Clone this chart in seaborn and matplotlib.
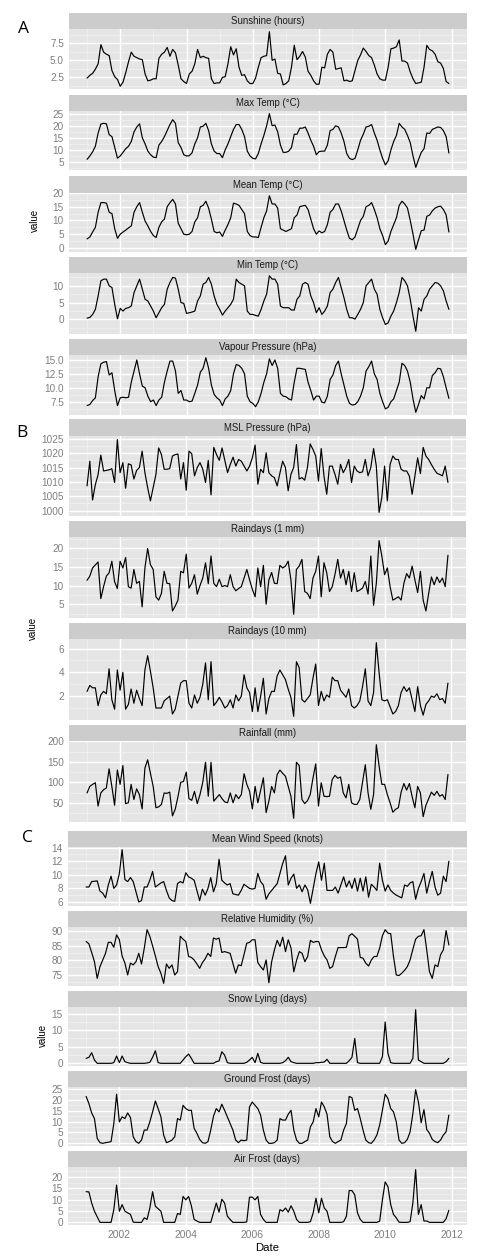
import numpy as np
import pandas as pd
import matplotlib
matplotlib.use("Agg")
import matplotlib.pyplot as plt
import seaborn as sns

sns.set_theme(style="white")
plt.rcParams["font.family"] = ["Liberation Sans", "DejaVu Sans"]

# ---------------- data (monthly, Jan 2001 - Dec 2011) ----------------
sunshine = [
    2.4, 2.8, 3.1, 3.7, 4.5, 7.3, 6.2, 5.9, 5.7, 3.5, 2.6, 2.2,
    1.2, 1.8, 3.2, 4.8, 6.2, 5.6, 5.4, 5.2, 5.1, 3.0, 2.0, 2.1,
    2.3, 2.3, 5.3, 5.9, 6.2, 6.9, 5.6, 6.6, 6.1, 4.3, 2.3, 1.9,
    1.6, 3.0, 3.4, 4.5, 6.6, 5.4, 5.6, 5.4, 5.3, 2.3, 1.6, 1.7,
    1.7, 2.5, 2.6, 4.5, 7.0, 5.8, 6.7, 4.0, 2.8, 2.9, 2.0, 1.6,
    1.6, 2.4, 4.0, 5.4, 5.6, 5.7, 9.2, 5.0, 5.2, 3.1, 3.0, 1.4,
    1.6, 2.0, 4.0, 7.2, 5.1, 5.6, 6.3, 5.5, 3.4, 2.8, 2.0, 1.5,
    1.5, 4.0, 3.9, 5.9, 6.6, 6.2, 3.7, 3.8, 3.9, 2.0, 2.1, 1.9,
    2.0, 3.5, 5.0, 5.8, 6.8, 6.3, 5.7, 5.4, 4.3, 3.0, 2.3, 2.1,
    2.1, 4.0, 6.7, 6.8, 7.0, 8.0, 4.9, 4.9, 4.6, 3.3, 2.3, 1.6,
    1.7, 1.8, 4.0, 7.2, 6.6, 6.4, 5.9, 4.8, 4.6, 3.8, 1.9, 1.6,
]
max_temp = [
    6.1, 7.5, 9.2, 11.5, 17.0, 20.7, 21.0, 20.8, 16.3, 15.5, 11.0, 6.6,
    7.5, 9.0, 10.5, 11.5, 13.5, 17.5, 19.5, 20.8, 15.0, 12.5, 9.5, 8.0,
    7.0, 6.8, 12.0, 13.5, 15.5, 18.0, 20.5, 22.5, 21.0, 13.0, 11.0, 8.0,
    7.5, 7.6, 8.8, 12.5, 15.0, 19.5, 19.8, 21.0, 18.0, 12.5, 9.5, 8.5,
    8.5, 6.8, 10.0, 12.5, 15.5, 18.5, 20.5, 20.5, 18.5, 15.5, 9.5, 7.5,
    6.5, 6.3, 8.5, 12.5, 16.0, 20.0, 25.0, 20.0, 20.3, 17.5, 12.0, 9.0,
    9.0, 9.5, 11.0, 16.5, 16.5, 19.0, 19.0, 19.5, 17.0, 14.0, 11.5, 8.0,
    9.3, 9.5, 9.5, 12.0, 18.0, 18.5, 20.0, 19.5, 17.0, 13.5, 8.5, 6.5,
    6.0, 6.5, 10.0, 14.0, 16.5, 19.5, 19.8, 20.5, 17.0, 14.0, 10.0, 6.5,
    3.8, 5.5, 10.0, 13.5, 16.0, 21.0, 19.5, 18.5, 16.0, 13.0, 7.5, 2.8,
    6.0, 9.0, 10.5, 17.0, 16.8, 18.5, 19.0, 19.5, 19.3, 18.0, 15.5, 8.7,
]
mean_temp = [
    3.3, 4.0, 5.8, 7.5, 13.0, 16.5, 16.5, 16.3, 13.0, 12.5, 7.0, 3.5,
    5.0, 5.8, 6.5, 7.3, 8.0, 13.0, 15.0, 16.5, 13.0, 9.8, 8.0, 6.0,
    4.5, 3.8, 7.5, 9.5, 10.5, 15.0, 16.5, 17.7, 16.0, 9.0, 7.0, 5.0,
    4.8, 5.0, 6.0, 9.5, 11.0, 15.0, 15.5, 17.0, 14.5, 10.5, 6.0, 5.5,
    5.8, 4.2, 6.5, 8.5, 11.0, 16.3, 16.0, 15.5, 14.0, 12.5, 6.0, 4.5,
    4.0, 4.0, 3.8, 7.5, 11.0, 13.5, 19.0, 16.0, 16.0, 14.5, 7.0, 6.5,
    6.0, 6.5, 7.0, 11.0, 12.0, 15.0, 15.3, 15.5, 14.0, 10.5, 7.0, 5.0,
    6.2, 5.5, 6.0, 8.5, 13.0, 14.0, 16.0, 16.0, 13.5, 10.0, 6.5, 3.5,
    3.0, 4.0, 7.0, 10.0, 11.5, 15.0, 15.5, 16.5, 14.0, 11.0, 7.0, 4.5,
    1.2, 2.5, 6.0, 8.5, 11.0, 15.5, 17.0, 16.0, 14.5, 10.0, 5.0, -0.5,
    3.0, 6.3, 6.5, 11.5, 12.0, 13.5, 14.5, 15.0, 15.2, 14.0, 12.0, 5.8,
]
min_temp = [
    0.4, 0.6, 1.5, 3.0, 7.0, 11.5, 12.0, 12.0, 10.0, 9.5, 4.5, 0.2,
    3.3, 2.5, 3.3, 3.5, 4.0, 8.0, 10.0, 12.0, 9.0, 6.0, 5.5, 4.0,
    2.5, 0.5, 2.0, 3.5, 4.5, 9.0, 11.0, 12.5, 12.3, 9.0, 5.0, 4.8,
    1.8, 2.0, 2.2, 2.5, 5.5, 7.0, 10.5, 11.0, 12.5, 10.5, 7.0, 4.5,
    3.0, 1.3, 2.5, 3.5, 4.5, 6.0, 12.0, 11.0, 10.5, 10.0, 2.5, 1.5,
    1.5, 1.2, 1.0, 3.0, 5.5, 7.5, 13.0, 12.0, 12.0, 10.5, 4.0, 3.5,
    3.5, 3.5, 2.8, 2.8, 6.0, 7.0, 10.5, 11.0, 10.5, 7.0, 5.0, 2.0,
    3.5, 1.5, 2.5, 4.0, 8.0, 9.0, 11.0, 12.5, 9.5, 6.5, 3.0, 0.5,
    0.5, 0.1, 1.5, 3.0, 5.0, 10.0, 11.0, 12.0, 9.0, 7.5, 3.0, 0.5,
    -1.5, -1.0, 1.0, 2.5, 5.0, 8.0, 12.5, 11.5, 10.0, 6.0, 1.0, -3.5,
    3.5, 2.5, 6.0, 7.0, 9.0, 10.0, 11.0, 10.8, 10.0, 8.5, 5.5, 3.0,
]
vapour = [
    6.8, 7.0, 7.7, 8.2, 12.0, 14.3, 14.6, 14.7, 12.3, 12.7, 9.5, 6.8,
    8.2, 8.3, 8.2, 8.3, 11.0, 13.0, 15.0, 12.5, 10.3, 10.0, 8.5, 7.5,
    7.8, 6.8, 7.8, 8.3, 11.0, 13.0, 14.8, 14.8, 13.0, 9.0, 9.5, 7.8,
    7.8, 7.5, 7.6, 9.0, 10.5, 12.8, 13.5, 15.4, 13.5, 10.5, 8.8, 8.2,
    7.8, 6.8, 8.0, 8.5, 9.5, 12.5, 14.2, 14.0, 13.5, 12.5, 8.5, 7.5,
    7.2, 6.6, 7.5, 9.0, 11.0, 12.5, 15.2, 14.0, 15.0, 13.5, 9.0, 8.5,
    8.4, 8.0, 7.8, 11.0, 13.5, 13.5, 13.4, 13.3, 11.0, 9.5, 7.8, 8.5,
    8.5, 7.4, 7.3, 8.5, 11.5, 12.3, 14.0, 14.8, 12.5, 10.5, 8.5, 7.2,
    6.9, 7.0, 7.5, 8.5, 10.0, 13.0, 13.8, 14.8, 12.5, 11.5, 9.0, 7.5,
    6.2, 6.5, 7.5, 8.0, 9.5, 11.0, 14.4, 14.0, 13.0, 11.0, 8.0, 5.6,
    7.0, 8.6, 8.0, 10.0, 10.0, 12.2, 12.7, 13.5, 13.4, 12.0, 10.0, 8.1,
]
msl_pressure = [
    1008.6, 1017.2, 1003.7, 1009.0, 1012.5, 1019.3, 1013.8, 1014.0, 1014.2, 1014.6, 1009.8, 1024.7,
    1013.2, 1016.7, 1007.8, 1016.3, 1015.9, 1011.0, 1014.0, 1015.0, 1020.7, 1013.2, 1008.0, 1003.4,
    1008.0, 1012.6, 1021.8, 1019.5, 1014.4, 1014.4, 1014.6, 1019.0, 1019.5, 1019.7, 1011.0, 1016.7,
    1007.1, 1020.7, 1019.8, 1012.1, 1015.0, 1016.7, 1014.4, 1009.8, 1017.5, 1005.5, 1022.0, 1019.5,
    1017.5, 1021.8, 1017.5, 1013.2, 1016.1, 1018.6, 1015.5, 1017.8, 1017.2, 1015.5, 1013.8, 1015.5,
    1018.4, 1022.8, 1009.2, 1014.4, 1013.2, 1020.1, 1013.2, 1012.1, 1011.5, 1008.6, 1013.0, 1017.2,
    1015.0, 1006.9, 1012.6, 1015.0, 1023.0, 1011.0, 1011.5, 1010.6, 1015.0, 1023.2, 1021.3, 1019.0,
    1010.3, 1021.6, 1012.0, 1005.7, 1015.5, 1015.5, 1012.6, 1009.2, 1016.1, 1013.2, 1015.0, 1017.8,
    1009.8, 1015.5, 1013.8, 1013.2, 1013.5, 1017.8, 1012.1, 1015.0, 1021.6, 1015.5, 999.4, 1004.6,
    1015.5, 1003.4, 1016.1, 1019.0, 1017.8, 1017.8, 1014.4, 1013.8, 1013.8, 1012.0, 1005.7, 1012.0,
    1018.4, 1012.9, 1022.0, 1019.0, 1017.8, 1016.0, 1014.4, 1013.0, 1012.6, 1012.1, 1015.5, 1009.8,
]
raindays_1mm = [
    11.4, 12.5, 14.7, 15.5, 16.3, 6.5, 9.7, 12.5, 13.4, 16.5, 11.0, 9.2,
    16.5, 14.7, 17.5, 9.7, 9.3, 14.3, 10.6, 11.1, 4.3, 14.7, 19.9, 15.6,
    14.3, 7.0, 6.1, 7.9, 13.8, 10.6, 10.5, 3.2, 4.5, 6.1, 13.8, 13.4,
    18.4, 9.3, 10.6, 12.9, 7.7, 10.0, 12.0, 16.1, 10.5, 17.9, 10.6, 9.7,
    11.7, 9.7, 10.0, 9.7, 12.9, 9.7, 8.6, 9.2, 9.7, 12.0, 14.3, 11.5,
    9.0, 7.0, 14.7, 9.7, 15.4, 5.0, 11.5, 13.5, 10.6, 10.5, 15.4, 14.7,
    15.2, 16.5, 11.5, 2.3, 14.3, 15.2, 17.0, 8.4, 7.9, 6.5, 12.0, 13.8,
    17.9, 7.0, 16.1, 13.4, 8.4, 9.7, 13.0, 17.0, 12.0, 14.3, 10.2, 13.8,
    8.4, 13.4, 8.4, 8.8, 9.3, 11.1, 7.7, 17.9, 4.7, 10.6, 22.0, 17.9,
    12.9, 14.7, 9.7, 6.1, 6.5, 7.0, 6.1, 10.6, 13.2, 12.0, 15.2, 11.5,
    8.1, 13.8, 6.1, 3.2, 7.9, 12.3, 10.2, 12.3, 10.8, 12.0, 9.7, 18.1,
]
raindays_10mm = [
    2.4, 2.9, 2.7, 2.7, 1.2, 2.1, 2.4, 2.2, 4.3, 1.7, 0.9, 4.2,
    2.5, 4.0, 0.9, 1.3, 2.6, 1.4, 2.5, 1.8, 1.2, 4.2, 5.4, 4.1,
    2.7, 1.0, 1.0, 1.0, 1.6, 1.8, 2.0, 0.5, 0.9, 2.0, 3.1, 3.3,
    3.3, 1.4, 1.0, 2.1, 1.4, 1.9, 3.0, 4.8, 1.7, 4.9, 1.2, 1.5,
    1.9, 1.5, 1.0, 1.2, 1.7, 1.0, 2.1, 1.6, 2.0, 3.8, 2.7, 2.3,
    0.7, 2.7, 0.7, 2.0, 3.5, 0.5, 1.8, 2.4, 2.4, 3.7, 4.2, 3.8,
    3.4, 2.6, 1.9, 0.3, 4.9, 4.4, 1.7, 1.5, 1.8, 2.1, 3.5, 4.7,
    1.2, 2.4, 1.6, 2.1, 1.9, 3.6, 3.3, 3.3, 2.5, 2.2, 1.9, 2.6,
    1.2, 1.0, 1.2, 1.6, 2.8, 4.3, 1.6, 1.2, 2.3, 6.5, 4.0, 1.7,
    1.6, 1.7, 1.1, 0.5, 0.7, 1.2, 2.3, 2.8, 2.4, 2.7, 1.7, 0.7,
    2.8, 1.2, 0.4, 1.3, 1.6, 2.0, 1.9, 2.2, 1.7, 1.8, 1.4, 3.1,
]
rainfall = [
    74, 90, 95, 99, 42, 74, 82, 86, 133, 90, 44, 130,
    95, 141, 48, 50, 95, 58, 84, 70, 35, 135, 155, 123,
    90, 38, 40, 46, 74, 73, 76, 18, 34, 65, 100, 102,
    125, 60, 56, 78, 48, 70, 100, 149, 66, 149, 54, 62,
    70, 60, 52, 50, 74, 50, 70, 60, 70, 121, 95, 78,
    35, 90, 50, 80, 111, 26, 54, 90, 74, 119, 130, 122,
    115, 90, 66, 12, 149, 141, 58, 48, 55, 70, 110, 145,
    42, 99, 66, 65, 66, 107, 117, 110, 113, 74, 62, 95,
    50, 46, 46, 58, 100, 143, 74, 34, 70, 192, 140, 95,
    95, 70, 50, 27, 34, 38, 76, 97, 81, 97, 65, 38,
    90, 74, 16, 44, 60, 76, 68, 78, 66, 70, 58, 119,
]
wind_speed = [
    8.2, 8.2, 9.0, 9.05, 9.1, 7.6, 7.3, 6.6, 8.5, 9.8, 8.0, 8.5,
    10.2, 13.7, 9.3, 9.0, 9.6, 9.0, 7.5, 6.0, 6.2, 8.2, 8.2, 9.2,
    10.5, 8.2, 8.5, 8.8, 9.0, 7.7, 6.6, 6.2, 6.1, 8.7, 9.0, 8.8,
    10.3, 9.7, 9.5, 9.2, 7.7, 6.2, 7.9, 7.0, 8.0, 9.6, 7.5, 8.7,
    12.3, 9.2, 8.8, 8.5, 8.7, 7.2, 7.1, 7.0, 7.7, 8.6, 8.3, 8.0,
    7.9, 8.0, 10.2, 9.0, 8.5, 6.4, 7.2, 7.7, 8.2, 8.7, 10.2, 11.7,
    12.8, 8.5, 9.5, 10.1, 8.0, 8.5, 7.5, 8.5, 7.8, 5.8, 8.0, 10.2,
    11.9, 9.2, 11.7, 7.7, 7.7, 7.7, 8.2, 7.3, 8.5, 9.7, 8.2, 9.1,
    8.0, 9.5, 7.6, 9.5, 7.6, 9.7, 6.7, 8.6, 8.2, 7.7, 11.7, 9.2,
    7.6, 8.5, 7.7, 7.3, 7.0, 6.8, 6.6, 8.5, 8.3, 8.8, 9.0, 6.4,
    8.0, 9.0, 10.2, 7.3, 9.0, 10.5, 8.2, 7.0, 7.3, 9.8, 9.0, 12.0,
]
humidity = [
    86.5, 85.7, 82.7, 79.5, 73.7, 77.8, 80.1, 82.4, 86.2, 86.2, 84.5, 88.8,
    87.1, 81.5, 79.0, 74.9, 79.0, 78.4, 79.5, 82.4, 78.7, 84.2, 90.6, 88.3,
    85.0, 81.5, 77.8, 75.5, 72.0, 78.7, 77.2, 78.4, 74.9, 76.0, 88.3, 87.3,
    86.5, 81.3, 81.0, 80.1, 78.7, 77.2, 79.2, 80.5, 82.4, 81.3, 87.7, 87.3,
    87.7, 82.7, 83.0, 82.7, 82.4, 79.0, 75.5, 78.4, 78.1, 81.9, 85.9, 86.2,
    87.1, 87.1, 79.2, 77.8, 76.6, 80.1, 72.2, 79.5, 83.6, 86.9, 84.8, 88.0,
    83.0, 87.1, 84.2, 76.0, 80.0, 83.0, 82.4, 79.5, 81.3, 86.9, 86.2, 86.5,
    86.5, 83.6, 81.5, 80.1, 77.2, 77.8, 81.3, 84.4, 84.4, 84.4, 84.5, 88.5,
    89.2, 88.3, 87.3, 81.0, 80.7, 79.0, 78.0, 80.1, 81.3, 81.3, 84.2, 88.5,
    90.6, 89.4, 89.2, 81.3, 74.9, 74.7, 75.5, 76.5, 77.8, 80.1, 83.8, 87.3,
    88.3, 88.5, 90.6, 83.6, 76.0, 73.7, 78.4, 77.8, 81.9, 83.6, 90.3, 85.3,
]
snow_lying = [
    1.5, 1.8, 3.2, 1.0, 0, 0, 0, 0, 0, 0, 0.2, 2.2,
    0.2, 2.2, 0.5, 0.2, 0, 0, 0, 0, 0, 0, 0.1, 0.3,
    1.8, 3.8, 0.2, 0, 0, 0, 0, 0, 0, 0, 0, 1.0,
    2.0, 2.8, 1.5, 0, 0, 0, 0, 0, 0, 0, 0, 0.5,
    0.7, 3.5, 2.5, 0.2, 0, 0, 0, 0, 0, 0, 0.3, 1.0,
    1.8, 0.2, 3.0, 0.3, 0, 0, 0, 0, 0, 0, 0, 0.2,
    0.8, 1.8, 0.5, 0.2, 0, 0, 0, 0, 0, 0, 0, 0.2,
    0.2, 0.3, 0.4, 1.2, 0, 0, 0, 0, 0, 0, 0, 0.8,
    1.8, 7.5, 0.2, 0, 0, 0, 0, 0, 0, 0, 0, 2.0,
    12.5, 3.0, 0.2, 0, 0, 0, 0, 0, 0, 0, 1.5, 16.2,
    1.0, 0.5, 0, 0, 0, 0, 0, 0, 0, 0, 0.5, 1.5,
]
ground_frost = [
    21.6, 18.3, 14.0, 11.4, 2.3, 0.3, 0.0, 0.3, 0.5, 0.8, 9.1, 22.6,
    9.9, 12.2, 11.4, 14.0, 11.9, 3.0, 0.8, 0.0, 1.5, 6.1, 6.1, 9.9,
    14.5, 19.5, 16.0, 12.2, 3.8, 0.3, 0.8, 1.5, 3.0, 11.4, 10.7, 17.5,
    16.0, 15.2, 15.2, 6.9, 4.6, 1.8, 0.3, 0.0, 0.8, 6.1, 12.5, 16.0,
    14.5, 18.0, 15.2, 12.2, 9.1, 6.1, 1.5, 0.3, 1.5, 1.2, 1.5, 16.8,
    19.0, 17.5, 16.0, 13.0, 6.1, 1.5, 0.0, 0.0, 0.3, 1.5, 11.4, 10.7,
    10.7, 13.4, 15.2, 6.1, 1.5, 0.0, 0.0, 0.8, 1.5, 7.6, 9.9, 16.0,
    12.2, 19.0, 16.8, 13.4, 3.0, 0.8, 0.0, 0.8, 1.5, 6.1, 9.1, 21.6,
    21.0, 15.2, 16.0, 11.4, 6.1, 1.5, 0.3, 0.0, 1.5, 3.8, 8.4, 15.2,
    22.6, 20.6, 16.0, 14.5, 9.9, 1.5, 0.0, 0.3, 1.8, 5.3, 13.7, 24.7,
    19.0, 9.5, 15.5, 6.4, 4.6, 1.8, 0.8, 0.3, 1.5, 3.8, 5.3, 13.0,
]
air_frost = [
    13.5, 13.4, 8.5, 4.9, 2.5, 0, 0, 0, 0, 0, 5.6, 16.4,
    4.9, 7.8, 4.9, 4.2, 3.5, 0.1, 0, 0, 0, 2.0, 1.3, 6.3,
    13.5, 7.1, 6.0, 4.9, 0, 0, 0, 0, 0, 3.9, 3.5, 11.4,
    9.9, 11.4, 7.3, 1.3, 0.6, 0, 0, 0, 0, 0, 4.2, 8.5,
    4.5, 10.2, 8.5, 2.7, 1.3, 0, 0, 0, 0, 0, 0.2, 11.1,
    11.1, 9.9, 11.4, 3.5, 1.3, 0, 0, 0, 0, 0, 5.6, 4.9,
    6.3, 4.5, 7.3, 4.9, 1.3, 0, 0, 0, 0, 0.3, 4.2, 10.6,
    4.2, 10.6, 6.3, 4.9, 0, 0, 0, 0, 0, 0.3, 2.7, 14.0,
    14.0, 12.1, 4.2, 1.3, 0, 0, 0, 0, 0, 0, 0.5, 9.9,
    17.8, 15.7, 7.8, 3.5, 2.0, 0.1, 0, 0, 0, 0.3, 8.5, 23.2,
    3.5, 7.8, 0.6, 0.6, 0, 0, 0, 0, 0, 0, 1.6, 5.3,
]

titles = [
    "Sunshine (hours)", "Max Temp (°C)", "Mean Temp (°C)", "Min Temp (°C)",
    "Vapour Pressure (hPa)", "MSL Pressure (hPa)", "Raindays (1 mm)",
    "Raindays (10 mm)", "Rainfall (mm)", "Mean Wind Speed (knots)",
    "Relative Humidity (%)", "Snow Lying (days)", "Ground Frost (days)",
    "Air Frost (days)",
]
series = [sunshine, max_temp, mean_temp, min_temp, vapour, msl_pressure,
          raindays_1mm, raindays_10mm, rainfall, wind_speed, humidity,
          snow_lying, ground_frost, air_frost]
y_breaks = [
    [2.5, 5.0, 7.5], [5, 10, 15, 20, 25], [0, 5, 10, 15, 20], [0, 5, 10],
    [7.5, 10.0, 12.5, 15.0], [1000, 1005, 1010, 1015, 1020, 1025],
    [5, 10, 15, 20], [2, 4, 6], [50, 100, 150, 200], [6, 8, 10, 12, 14],
    [75, 80, 85, 90], [0, 5, 10, 15], [0, 5, 10, 15, 20, 25],
    [0, 5, 10, 15, 20],
]
x_breaks = [2002, 2004, 2006, 2008, 2010, 2012]
x_tick_labels = ["2002", "2004", "2006", "2008", "2010", "2012"]
group_letters = ["A", "B", "C"]

bad = [len(s) for s in series if len(s) != 132]
if bad:
    raise ValueError("lengths: " + str([len(s) for s in series]))

months = pd.date_range("2001-01-01", periods=132, freq="MS")
DATES = np.asarray(months.year + (months.month - 1) / 12.0, dtype=float)

# ---------------- layout (pixels) ----------------
W, H = 492, 1260
# (x0, x1, strip_top, panel_top, panel_bottom, group)
layout = [
    (69, 467, 13, 29, 89, 0), (69, 467, 95, 111, 170, 0),
    (69, 467, 176, 193, 252, 0), (69, 467, 257, 273, 334, 0),
    (69, 467, 339, 355, 415, 0),
    (69, 466, 419, 436, 516, 1), (69, 466, 521, 537, 618, 1),
    (69, 466, 623, 639, 720, 1), (69, 466, 725, 741, 822, 1),
    (68, 467, 831, 847, 906, 2), (68, 467, 911, 927, 986, 2),
    (68, 467, 991, 1007, 1066, 2), (68, 467, 1071, 1087, 1146, 2),
    (68, 467, 1151, 1167, 1225, 2),
]
last_in_group = {4: 0, 8: 1, 13: 2}

fig = plt.figure(figsize=(W / 100, H / 100), dpi=100)
fig.patch.set_facecolor("white")

xr = DATES.max() - DATES.min()
xlo, xhi = DATES.min() - 0.05 * xr, DATES.max() + 0.05 * xr
x_minor = [2001, 2003, 2005, 2007, 2009, 2011]

GREY50 = "#7F7F7F"
for k, (title, vals, brks, lay) in enumerate(zip(titles, series, y_breaks, layout)):
    x0, x1, st, pt, pb, grp = lay
    ax = fig.add_axes([x0 / W, 1 - pb / H, (x1 - x0) / W, (pb - pt) / H])
    ax.set_facecolor("#E5E5E5")
    df = pd.DataFrame({"Date": DATES, "value": np.asarray(vals, dtype=float)})
    sns.lineplot(data=df, x="Date", y="value", ax=ax, color="black",
                 linewidth=0.85, estimator=None)
    v = df["value"].values
    r = v.max() - v.min()
    ylo, yhi = v.min() - 0.05 * r, v.max() + 0.05 * r
    ax.set_xlim(xlo, xhi)
    ax.set_ylim(ylo, yhi)
    step = brks[1] - brks[0]
    yminor = [b - step / 2 for b in brks] + [brks[-1] + step / 2]
    yminor = [m for m in yminor if ylo < m < yhi]
    ax.set_yticks(brks)
    dec = 1 if any(float(b) != int(b) for b in brks) else 0
    ax.set_yticklabels([f"{b:.{dec}f}" for b in brks])
    ax.set_yticks(yminor, minor=True)
    ax.set_xticks(x_breaks)
    ax.set_xticks(x_minor, minor=True)
    ax.grid(which="major", color="white", linewidth=1.0)
    ax.grid(which="minor", color="#F2F2F2", linewidth=0.5)
    ax.set_axisbelow(True)
    for s in ax.spines.values():
        s.set_visible(False)
    ax.tick_params(axis="y", which="major", length=2.4, width=0.5,
                   color=GREY50, labelsize=7.2, labelcolor=GREY50, pad=1.2)
    ax.tick_params(which="minor", length=0)
    ax.set_xlabel("")
    ax.set_ylabel("")
    if k in last_in_group and last_in_group[k] > 0:
        ax.tick_params(axis="x", which="major", length=2.4, width=0.5,
                       color=GREY50, labelsize=7.4, labelcolor=GREY50, pad=1.5)
        if last_in_group[k] == 2:
            ax.set_xticklabels(x_tick_labels)
        else:
            ax.set_xticklabels([])
    else:
        ax.tick_params(axis="x", which="major", length=0, labelbottom=False)
    # strip
    sax = fig.add_axes([x0 / W, 1 - pt / H, (x1 - x0) / W, (pt - st) / H])
    sax.set_facecolor("#CCCCCC")
    sax.set_xticks([])
    sax.set_yticks([])
    for s in sax.spines.values():
        s.set_visible(False)
    sax.text(0.5, 0.47, title, ha="center", va="center", fontsize=6.9,
             color="#1A1A1A", transform=sax.transAxes)

# axis titles and panel letters
for (xp, yp) in [(35, 220), (33, 628), (43, 1035)]:
    fig.text(xp / W, 1 - yp / H, "value", rotation=90, ha="center",
             va="center", fontsize=7.0, color="black")
fig.text(267.5 / W, 1 - 1248 / H, "Date", ha="center", va="center",
         fontsize=8.2, color="black")
for letter, (xp, yp) in zip(group_letters, [(24, 29), (22, 433), (27, 838)]):
    fig.text(xp / W, 1 - yp / H, letter, ha="center", va="center",
             fontsize=12.5, color="black", family=["Open Sans", "DejaVu Sans"])

fig.savefig("out.png", dpi=100, facecolor="white")
